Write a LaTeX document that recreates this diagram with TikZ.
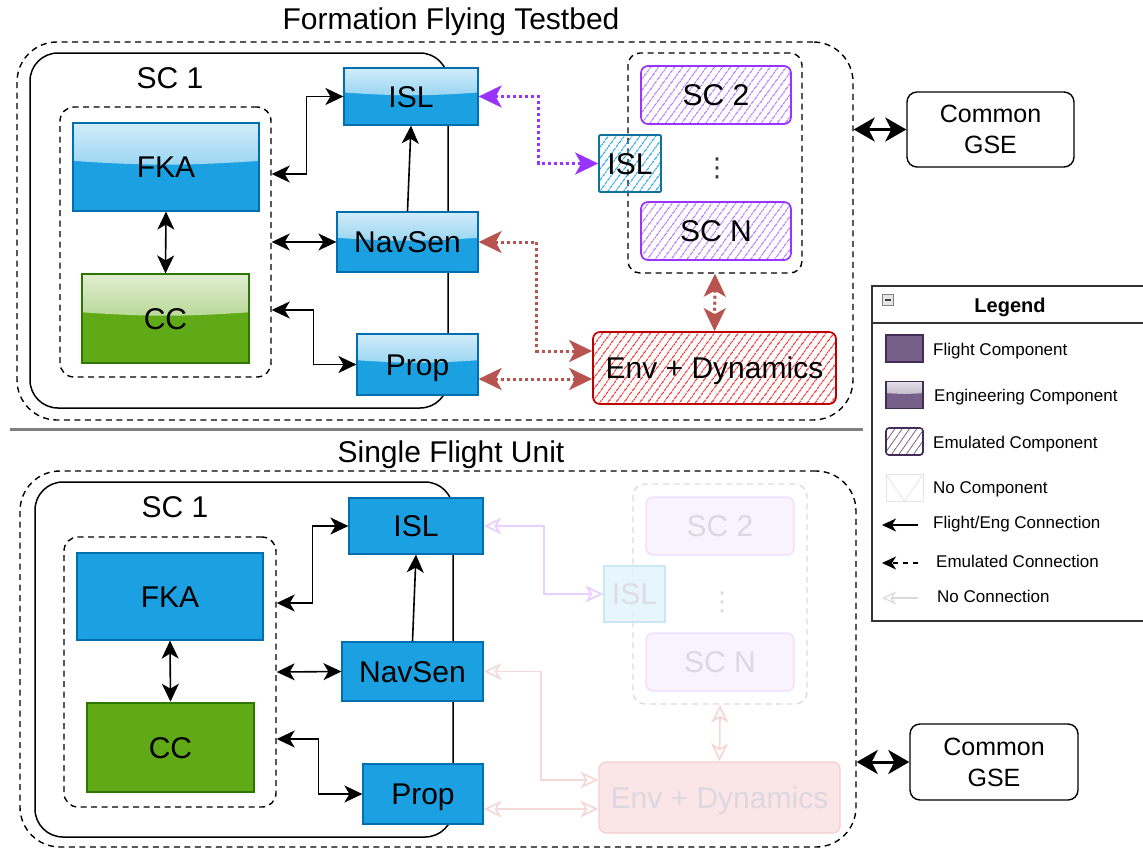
\documentclass[tikz,border=0pt]{standalone}
\usepackage{fontspec}
\setmainfont{Liberation Sans}
\newfontfamily\dotsfont{DejaVu Sans}
\usetikzlibrary{arrows.meta,patterns.meta,calc}

% Colours of the components
\definecolor{flightblue}{HTML}{1BA1E2}
\definecolor{blueedge}{HTML}{006EAF}
\definecolor{ccgreen}{HTML}{60A917}
\definecolor{greenedge}{HTML}{2D7600}
\definecolor{scviolet}{HTML}{9933FF}
\definecolor{hatchviolet}{HTML}{B070F8}
\definecolor{isledge}{HTML}{10739E}
\definecolor{envred}{HTML}{C00000}
\definecolor{hatchred}{HTML}{EE2A2A}
\definecolor{linkred}{HTML}{B85450}
\definecolor{legpurple}{HTML}{76608A}
\definecolor{legedge}{HTML}{432D57}
\definecolor{fadeviolet}{HTML}{F9F2FF}
\definecolor{fadevioletedge}{HTML}{EBDDFB}
\definecolor{fadeblue}{HTML}{E3F3FB}
\definecolor{fadeblueedge}{HTML}{CBE7F5}
\definecolor{fadered}{HTML}{FAE6E6}
\definecolor{faderededge}{HTML}{F5D0D0}
\definecolor{fadetext}{HTML}{DDD8E0}
\definecolor{fadelinkviolet}{HTML}{E8D0FF}
\definecolor{fadelinkred}{HTML}{F3DAD8}
\definecolor{sepgray}{HTML}{808080}

\tikzset{
  every node/.style={inner sep=0pt},
  boxfont/.style={font=\fontsize{30}{34}\selectfont, text height=21.5pt, text depth=0pt},
  heading/.style={boxfont},
  comp/.style={boxfont, rectangle, draw=#1, line width=1.2pt},
  glossy/.style={path picture={
    \shade[top color=white!80!#1, bottom color=white!30!#1]
      (path picture bounding box.north west) -- (path picture bounding box.north east)
      -- ($(path picture bounding box.north east)!0.43!(path picture bounding box.south east)$)
      to[bend left=4] ($(path picture bounding box.north west)!0.43!(path picture bounding box.south west)$)
      -- cycle;}},
  hatched/.style 2 args={boxfont, rectangle, draw=#1, line width=1.7pt, rounded corners=7pt,
    pattern={Lines[angle=54,distance=6.5pt,line width=1.1pt]}, pattern color=#2},
  faded/.style 2 args={boxfont, rectangle, draw=#1, fill=#2, line width=1.2pt, text=fadetext, rounded corners=7pt},
  grpbox/.style={draw, dash pattern=on 6pt off 4.5pt, line width=1.4pt, rounded corners=#1},
  grpbox/.default=14pt,
  scbox/.style={draw, line width=1.5pt, rounded corners=28pt},
  gse/.style={draw, line width=1.4pt, rounded corners=10pt, align=center, font=\fontsize{25}{31}\selectfont},
  link/.style={{Stealth[length=18pt,width=17pt,inset=5pt]}-{Stealth[length=18pt,width=17pt,inset=5pt]}, line width=1.6pt},
  oneway/.style={-{Stealth[length=18pt,width=17pt,inset=5pt]}, line width=1.6pt},
  emulink/.style={{Stealth[length=23pt,width=22pt,inset=6pt]}-{Stealth[length=23pt,width=22pt,inset=6pt]}, draw=#1, line width=3pt, dash pattern=on 3pt off 3pt},
  nolink/.style={{Stealth[open,length=18pt,width=17pt,inset=5pt]}-{Stealth[open,length=18pt,width=17pt,inset=5pt]}, draw=#1, line width=1.8pt},
  gselink/.style={{Stealth[length=21pt,width=24pt,inset=6pt]}-{Stealth[length=21pt,width=24pt,inset=6pt]}, line width=3pt},
  legtext/.style={anchor=west, font=\fontsize{17}{20}\selectfont, text height=12.2pt, text depth=0pt},
  swatch/.style={rectangle, minimum width=37pt, minimum height=27pt},
}

\begin{document}
\begin{tikzpicture}[x=1pt,y=-1pt]
\useasboundingbox (0,0) rectangle (1143,849);

% Top half: formation flying testbed
\node[heading] (titleA) at (451,19) {Formation Flying Testbed};
\node[grpbox=40pt, minimum width=836pt, minimum height=378pt] (outerA) at (435,231) {};
\node[scbox, minimum width=418pt, minimum height=355pt] (sc1A) at (239,230.5) {};
\node[heading] (sc1labelA) at (170,77.5) {SC 1};
\node[grpbox, minimum width=211pt, minimum height=270pt] (innerA) at (165.5,242) {};

% Engineering components of SC 1
\node[comp=blueedge, fill=flightblue, glossy=flightblue, minimum width=186pt, minimum height=88pt] (fkaA) at (166,167) {FKA};
\node[comp=greenedge, fill=ccgreen, glossy=ccgreen, minimum width=167pt, minimum height=89pt] (ccA) at (165.5,318.5) {CC};
\node[comp=blueedge, fill=flightblue, glossy=flightblue, minimum width=134pt, minimum height=57pt] (islA) at (411,96.5) {ISL};
\node[comp=blueedge, fill=flightblue, glossy=flightblue, minimum width=141pt, minimum height=60pt] (navA) at (407.5,242) {NavSen};
\node[comp=blueedge, fill=flightblue, glossy=flightblue, minimum width=121pt, minimum height=61pt] (propA) at (417.5,364.5) {Prop};

% Emulated spacecraft and environment
\node[grpbox=12pt, minimum width=174pt, minimum height=220pt] (scgrpA) at (715,163) {};
\node[hatched={scviolet}{hatchviolet}, minimum width=150pt, minimum height=58pt] (sc2A) at (716,95) {SC 2};
\node[hatched={scviolet}{hatchviolet}, minimum width=150pt, minimum height=58pt] (scnA) at (716,231) {SC N};
\node[hatched={isledge}{flightblue}, rounded corners=1pt, minimum width=62pt, minimum height=57pt] (islEA) at (630,163.5) {ISL};
\node[font=\dotsfont\fontsize{26}{26}\selectfont, text=black!80] (dotsA) at (717,168) {⋮};
\node[hatched={envred}{hatchred}, minimum width=243pt, minimum height=72pt] (envA) at (714.5,368) {Env + Dynamics};
\node[gse, minimum width=167pt, minimum height=75pt] (gseA) at (990.5,129.5) {Common\\GSE};

% Connections inside SC 1
\draw[link] (islA.west) -- ++(-37,0) |- ([yshift=68pt]innerA.east);
\draw[link] (innerA.east) -- (navA.west);
\draw[link] (propA.west) -- ++(-43,0) |- ([yshift=-68pt]innerA.east);
\draw[oneway] (navA.north) -- (islA.south);
\draw[link] (fkaA.south) -- (ccA.north);

% Emulated connections
\draw[emulink=scviolet] (islA.east) -- ++(60,0) |- (islEA.west);
\draw[emulink=linkred] (navA.east) -- ++(58,0) |- ([yshift=17pt]envA.west);
\coordinate (propoutA) at ([yshift=-14.5pt]propA.east);
\draw[emulink=linkred] (propoutA) -- (propoutA -| envA.west);
\draw[emulink=linkred] (scgrpA.south) -- (envA.north);
\draw[gselink] (outerA.east |- gseA.west) -- (gseA.west);

% Separator
\coordinate (sepL) at (10,429);
\coordinate (sepR) at (863,429);
\draw[sepgray, line width=3pt] (sepL) -- (sepR);

% Bottom half: single flight unit
\node[heading] (titleB) at (451,452) {Single Flight Unit};
\node[grpbox=40pt, minimum width=836pt, minimum height=376pt] (outerB) at (438,659) {};
\node[scbox, minimum width=418pt, minimum height=355pt] (sc1B) at (244,659.5) {};
\node[heading] (sc1labelB) at (175,506.5) {SC 1};
\node[grpbox, minimum width=212pt, minimum height=270pt] (innerB) at (170,672) {};

% Flight components of SC 1
\node[comp=blueedge, fill=flightblue, minimum width=186pt, minimum height=87pt] (fkaB) at (170,596.5) {FKA};
\node[comp=greenedge, fill=ccgreen, line width=2.6pt, minimum width=167pt, minimum height=89pt] (ccB) at (170.5,747.5) {CC};
\node[comp=blueedge, fill=flightblue, minimum width=134pt, minimum height=56pt] (islB) at (416,526) {ISL};
\node[comp=blueedge, fill=flightblue, minimum width=141pt, minimum height=59pt] (navB) at (412.5,671.5) {NavSen};
\node[comp=blueedge, fill=flightblue, minimum width=120pt, minimum height=60pt] (propB) at (423,794) {Prop};

% Absent components
\node[grpbox=12pt, draw=black!14, minimum width=174pt, minimum height=220pt] (scgrpB) at (720,594) {};
\node[faded={fadevioletedge}{fadeviolet}, minimum width=148pt, minimum height=58pt] (sc2B) at (720,526) {SC 2};
\node[faded={fadevioletedge}{fadeviolet}, minimum width=148pt, minimum height=58pt] (scnB) at (720,662) {SC N};
\node[faded={fadeblueedge}{fadeblue}, rounded corners=0pt, fill opacity=0.85, minimum width=61pt, minimum height=56pt] (islEB) at (634.5,594) {ISL};
\node[font=\dotsfont\fontsize{26}{26}\selectfont, text=fadetext] (dotsB) at (722,602) {⋮};
\node[faded={faderededge}{fadered}, minimum width=241pt, minimum height=71pt] (envB) at (719.5,797.5) {Env + Dynamics};
\node[gse, minimum width=168pt, minimum height=76pt] (gseB) at (994,762) {Common\\GSE};

% Connections inside SC 1
\draw[link] (islB.west) -- ++(-36,0) |- ([yshift=69pt]innerB.east);
\draw[link] (innerB.east) -- (navB.west);
\draw[link] (propB.west) -- ++(-44,0) |- ([yshift=-67pt]innerB.east);
\draw[oneway] (navB.north) -- (islB.south);
\draw[link] (fkaB.south) -- (ccB.north);

% Absent connections
\draw[nolink=fadelinkviolet] (islB.east) -- ++(60,0) |- (islEB.west);
\draw[nolink=fadelinkred] (navB.east) -- ++(57,0) |- ([yshift=17.5pt]envB.west);
\coordinate (propoutB) at ([yshift=-15pt]propB.east);
\draw[nolink=fadelinkred] (propoutB) -- (propoutB -| envB.west);
\draw[nolink=fadelinkred] (scgrpB.south) -- (envB.north);
\draw[gselink] (outerB.east |- gseB.west) -- (gseB.west);

% Legend
\node[draw=black!80, line width=1.4pt, minimum width=278pt, minimum height=335pt] (legend) at (1011,453.5) {};
\coordinate (legsplit) at (0,323);
\draw[black!80, line width=1.4pt] (legend.west |- legsplit) -- (legend.east |- legsplit);
\node[draw=gray, fill=gray!20, line width=0.8pt, minimum size=11pt] (collapse) at (888,300) {};
\draw[line width=1.5pt, black!75] ([xshift=2.5pt]collapse.west) -- ([xshift=-2.5pt]collapse.east);
\node[font=\bfseries\fontsize{20}{24}\selectfont] (legtitle) at (1010,307) {Legend};

\node[swatch, draw=legedge, fill=legpurple, line width=1.2pt] (swFlight) at (904.5,348.5) {};
\node[legtext] (txFlight) at (933,349) {Flight Component};
\node[swatch, draw=legedge, fill=legpurple, glossy=legpurple, line width=1.2pt] (swEng) at (904.5,395) {};
\node[legtext] (txEng) at (934,395) {Engineering Component};
\node[swatch, draw=legedge, line width=1.6pt, rounded corners=3pt, pattern={Lines[angle=55,distance=6pt,line width=0.8pt]}, pattern color=legpurple] (swEmu) at (904.5,441.5) {};
\node[legtext] (txEmu) at (933,442) {Emulated Component};
\node[swatch, draw=black!10, line width=1pt] (swNone) at (904.5,487.5) {};
\draw[black!10, line width=0.8pt] (swNone.north west) -- (swNone.south) -- (swNone.north east);
\node[legtext] (txNone) at (933,487.5) {No Component};

\coordinate (lgFa) at (918,525); \coordinate (lgFb) at (882,525);
\draw[-{Stealth[length=14pt,width=13pt,inset=4pt]}, line width=1.6pt] (lgFa) -- (lgFb);
\node[legtext] (txFlightLink) at (933,522) {Flight/Eng Connection};
\coordinate (lgEa) at (918,563); \coordinate (lgEb) at (882,563);
\draw[-{Stealth[length=14pt,width=13pt,inset=4pt]}, line width=1.6pt, dash pattern=on 5pt off 5pt] (lgEa) -- (lgEb);
\node[legtext] (txEmuLink) at (936,561) {Emulated Connection};
\coordinate (lgNa) at (918,598); \coordinate (lgNb) at (882,598);
\draw[-{Stealth[open,length=14pt,width=13pt,inset=4pt]}, line width=1.2pt, black!15] (lgNa) -- (lgNb);
\node[legtext] (txNoLink) at (937,596) {No Connection};
\end{tikzpicture}
\end{document}
